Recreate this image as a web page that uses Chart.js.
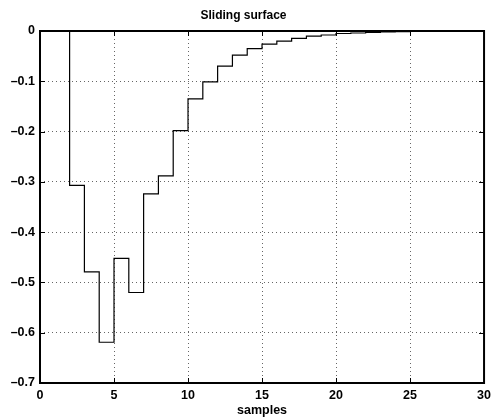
<!DOCTYPE html>
<html>
<head>
<meta charset="utf-8">
<script src="https://cdn.jsdelivr.net/npm/chart.js@4.4.0/dist/chart.umd.min.js"></script>
<style>
  html, body { margin: 0; padding: 0; background: #fff; }
  #wrap { width: 496px; height: 419px; }
</style>
</head>
<body>
<div id="wrap"><canvas id="chart" width="496" height="419"></canvas></div>
<script>
// sample index and sliding surface value (stairs)
const samples = [1, 2, 3, 4, 5, 6, 7, 8, 9, 10, 11, 12, 13, 14, 15, 16, 17, 18, 19, 20, 21, 22, 23, 24, 25, 26, 27, 28, 29];
const sigma = [0, -0.307, -0.479, -0.619, -0.452, -0.520, -0.324, -0.288, -0.198, -0.135, -0.101, -0.070, -0.048,
  -0.035, -0.026, -0.020, -0.0145, -0.010, -0.008, -0.005, -0.004, -0.003, -0.002, -0.0015, -0.001, -0.0007,
  -0.0005, -0.0003, -0.0002];
const xTicks = [0, 5, 10, 15, 20, 25, 30];
const yTicks = [0, -0.1, -0.2, -0.3, -0.4, -0.5, -0.6, -0.7];

const font = 'Liberation Sans, Arial, Helvetica, sans-serif';

// box around the axes plus inward tick marks on all four sides
const frame = {
  id: 'frame',
  afterDraw(chart) {
    const { ctx, chartArea: a, scales } = chart;
    ctx.save();
    ctx.strokeStyle = '#000';
    ctx.lineWidth = 1;
    ctx.beginPath();
    xTicks.forEach(t => {
      const x = Math.round(scales.x.getPixelForValue(t)) + 0.5;
      ctx.moveTo(x, a.bottom); ctx.lineTo(x, a.bottom - 5);
      ctx.moveTo(x, a.top); ctx.lineTo(x, a.top + 5);
    });
    yTicks.forEach(t => {
      const y = Math.round(scales.y.getPixelForValue(t)) + 0.5;
      ctx.moveTo(a.left, y); ctx.lineTo(a.left + 5, y);
      ctx.moveTo(a.right, y); ctx.lineTo(a.right - 5, y);
    });
    ctx.stroke();
    ctx.lineWidth = 2;
    ctx.strokeRect(a.left, a.top, a.right - a.left, a.bottom - a.top);
    ctx.restore();
  }
};

new Chart(document.getElementById('chart'), {
  type: 'line',
  data: {
    datasets: [{
      data: samples.map((s, i) => ({ x: s, y: sigma[i] })),
      stepped: 'before',
      borderColor: '#000',
      borderWidth: 1.2,
      pointRadius: 0,
      fill: false
    }]
  },
  options: {
    responsive: false,
    animation: false,
    layout: { padding: { left: 0, right: 9, top: 0, bottom: 0 } },
    plugins: {
      legend: { display: false },
      tooltip: { enabled: false },
      title: {
        display: true,
        text: 'Sliding surface',
        color: '#000',
        font: { family: font, size: 12, weight: 'bold', lineHeight: 1.2 },
        padding: { top: 8, bottom: 8.6 }
      }
    },
    scales: {
      x: {
        type: 'linear',
        min: 0,
        max: 30,
        afterFit(scale) { scale.height = 36; },
        afterBuildTicks(scale) { scale.ticks = xTicks.map(v => ({ value: v })); },
        ticks: {
          color: '#000',
          padding: 5,
          font: { family: font, size: 12.5, weight: 'bold' }
        },
        grid: { drawTicks: false, color: 'rgba(0,0,0,0.6)', lineWidth: 1, borderDash: [1, 3] },
        border: { display: false, dash: [1, 3] },
        title: {
          display: true,
          text: 'samples',
          color: '#000',
          padding: { top: 0, bottom: 1 },
          font: { family: font, size: 12.5, weight: 'bold' }
        }
      },
      y: {
        min: -0.7,
        max: 0,
        afterFit(scale) { scale.width = 40; },
        afterBuildTicks(scale) { scale.ticks = yTicks.map(v => ({ value: v })); },
        ticks: {
          color: '#000',
          padding: 5,
          font: { family: font, size: 12.5, weight: 'bold' },
          callback: v => v === 0 ? '0' : '\u2013' + Math.abs(v).toFixed(1)
        },
        grid: { drawTicks: false, color: 'rgba(0,0,0,0.6)', lineWidth: 1, borderDash: [1, 3] },
        border: { display: false, dash: [1, 3] }
      }
    }
  },
  plugins: [frame]
});
</script>
</body>
</html>
